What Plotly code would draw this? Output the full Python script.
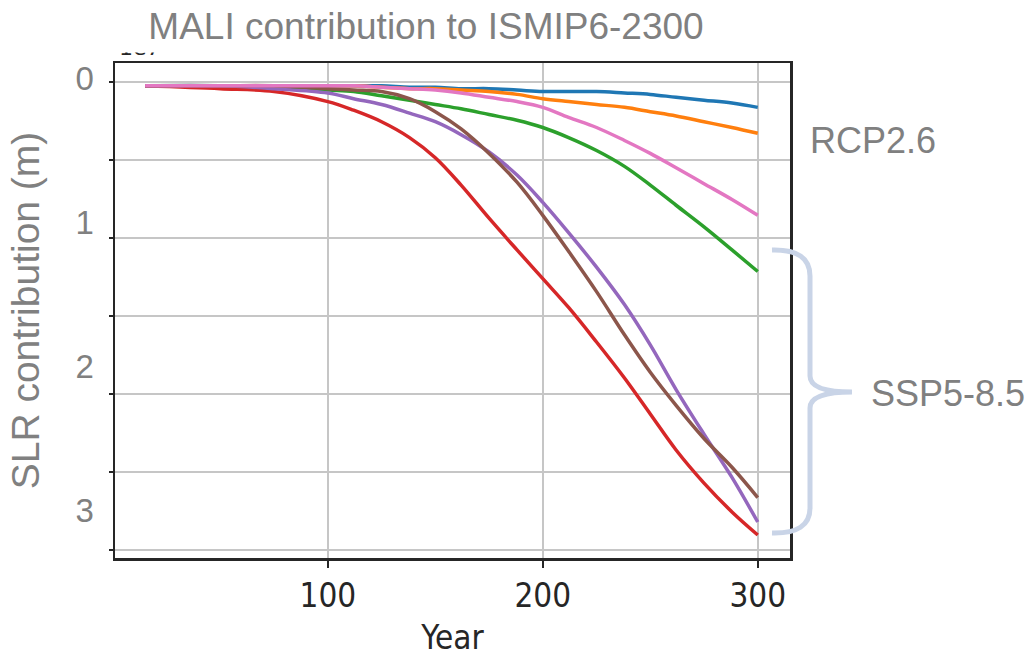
import plotly.graph_objects as go

# Simulation years (model year since start of run)
years = [15, 50, 75, 100, 112, 125, 138, 150, 162, 175, 188, 200, 212, 225, 238, 250, 262, 275, 288, 300]

# Sea-level-rise contribution (m) for each ensemble member
slr_blue = [0.05, 0.05, 0.05, 0.05, 0.05, 0.05, 0.06, 0.06, 0.07, 0.07,
            0.08, 0.09, 0.09, 0.09, 0.10, 0.11, 0.13, 0.15, 0.17, 0.20]
slr_orange = [0.05, 0.05, 0.05, 0.05, 0.05, 0.06, 0.07, 0.07, 0.08, 0.09,
              0.11, 0.14, 0.16, 0.18, 0.20, 0.23, 0.26, 0.30, 0.34, 0.38]
slr_green = [0.05, 0.05, 0.06, 0.08, 0.09, 0.12, 0.15, 0.18, 0.21, 0.25,
             0.29, 0.34, 0.41, 0.50, 0.61, 0.74, 0.88, 1.03, 1.19, 1.34]
slr_red = [0.05, 0.07, 0.09, 0.16, 0.22, 0.30, 0.41, 0.55, 0.74, 0.97,
           1.19, 1.39, 1.59, 1.83, 2.08, 2.33, 2.58, 2.81, 3.01, 3.17]
slr_purple = [0.05, 0.05, 0.07, 0.10, 0.14, 0.18, 0.24, 0.30, 0.39, 0.51,
              0.67, 0.86, 1.07, 1.31, 1.57, 1.85, 2.16, 2.47, 2.77, 3.08]
slr_brown = [0.05, 0.05, 0.05, 0.07, 0.08, 0.09, 0.14, 0.23, 0.35, 0.52,
             0.72, 0.95, 1.20, 1.48, 1.78, 2.04, 2.27, 2.50, 2.70, 2.91]
slr_pink = [0.05, 0.05, 0.05, 0.05, 0.05, 0.06, 0.07, 0.08, 0.10, 0.13,
            0.16, 0.20, 0.27, 0.34, 0.43, 0.52, 0.62, 0.73, 0.84, 0.95]

series = [
    ("blue", slr_blue, "#1f77b4"),
    ("orange", slr_orange, "#ff7f0e"),
    ("green", slr_green, "#2ca02c"),
    ("red", slr_red, "#d62728"),
    ("purple", slr_purple, "#9467bd"),
    ("brown", slr_brown, "#8c564b"),
    ("pink", slr_pink, "#e377c2"),
]

# Axis ticks
x_ticks = [100, 200, 300]
y_ticks_m = [0, 1, 2, 3]
y_grid_raw = [0, 0.5, 1.0, 1.5, 2.0, 2.5, 3.0]  # native model units (x1e7)

# Page geometry
W, H = 1035, 657
ML, MR, MT, MB = 115, 245, 63, 99
PW, PH = W - ML - MR, H - MT - MB


def px(x):
    return (x - ML) / PW


def py(y):
    return (H - MB - y) / PH


fig = go.Figure()

for name, vals, color in series:
    fig.add_trace(go.Scatter(
        x=years, y=vals, name=name, mode="lines",
        line=dict(color=color, width=3.5, shape="spline", smoothing=1.0),
        hoverinfo="skip", showlegend=False,
    ))

GRAY = "#808080"
DARK = "#262626"
GRID = "#c6c6c6"

fig.update_layout(
    width=W, height=H,
    margin=dict(l=ML, r=MR, t=MT, b=MB, pad=0, autoexpand=False),
    paper_bgcolor="white", plot_bgcolor="white",
    showlegend=False,
    xaxis=dict(
        range=[1.0, 315.0], tickvals=x_ticks, ticktext=[str(v) for v in x_ticks],
        automargin=False,
        showgrid=True, gridcolor=GRID, gridwidth=2, zeroline=False,
        showline=True, linecolor=DARK, linewidth=2.5, mirror=True,
        ticks="outside", ticklen=7, tickwidth=2, tickcolor=DARK,
        tickfont=dict(family="DejaVu Sans Condensed, DejaVu Sans", size=33, color=DARK),
        title=dict(text="Year", standoff=24,
                   font=dict(family="DejaVu Sans Condensed, DejaVu Sans", size=33, color=DARK)),
    ),
    yaxis=dict(
        range=[3.330, -0.108], tickvals=y_ticks_m, ticktext=[str(v) for v in y_ticks_m],
        automargin=False,
        showgrid=False, zeroline=False,
        showline=True, linecolor=DARK, linewidth=2.5, mirror=True,
        ticks="", ticklabelstandoff=12,
        tickfont=dict(family="Liberation Sans, Arial", size=33, color=GRAY),
        title=dict(text="SLR contribution (m)", standoff=24,
                   font=dict(family="Liberation Sans, Arial", size=39, color=GRAY)),
    ),
    yaxis2=dict(
        overlaying="y", side="left", anchor="x", automargin=False,
        range=[3.0513, -0.1218], tickvals=y_grid_raw, showticklabels=False,
        showgrid=True, gridcolor=GRID, gridwidth=2, zeroline=False, showline=False,
        ticks="outside", ticklen=5, tickwidth=2, tickcolor=DARK,
    ),
)

# keep the native-unit axis alive with an empty series
fig.add_trace(go.Scatter(x=[None], y=[None], yaxis="y2", mode="lines",
                         hoverinfo="skip", showlegend=False))

# Scenario brace beside the high-emission runs
brace_pts = [
    ("M", (772, 250)), ("Q", (810, 249)), ("", (810, 276)),
    ("L", (810, 376)), ("Q", (810, 392)), ("", (852, 392)),
    ("Q", (810, 392)), ("", (810, 408)),
    ("L", (810, 508)), ("Q", (810, 534)), ("", (772, 533)),
]
path = " ".join(f"{c} {px(x):.5f},{py(y):.5f}".strip() for c, (x, y) in brace_pts)
fig.add_shape(type="path", path=path, xref="paper", yref="paper",
              line=dict(color="#c9d4e7", width=5), fillcolor="rgba(0,0,0,0)")

annotations = [
    # offset-text exponent of the native unit axis
    dict(text="1e7", x=px(117), y=py(62), xanchor="left", yanchor="bottom",
         font=dict(family="DejaVu Sans", size=22, color=DARK)),
    dict(text="MALI contribution to ISMIP6-2300", x=px(426), y=py(26),
         xanchor="center", yanchor="middle", width=640, height=50,
         bgcolor="white", font=dict(family="Liberation Sans, Arial", size=37, color=GRAY)),
    dict(text="RCP2.6", x=px(873), y=py(140), xanchor="center", yanchor="middle",
         font=dict(family="Liberation Sans, Arial", size=36, color=GRAY)),
    dict(text="SSP5-8.5", x=px(948), y=py(393), xanchor="center", yanchor="middle",
         font=dict(family="Liberation Sans, Arial", size=36, color=GRAY)),
]
for a in annotations:
    fig.add_annotation(xref="paper", yref="paper", showarrow=False, **a)

fig.write_html("out.html", config={"displayModeBar": False, "staticPlot": True})
